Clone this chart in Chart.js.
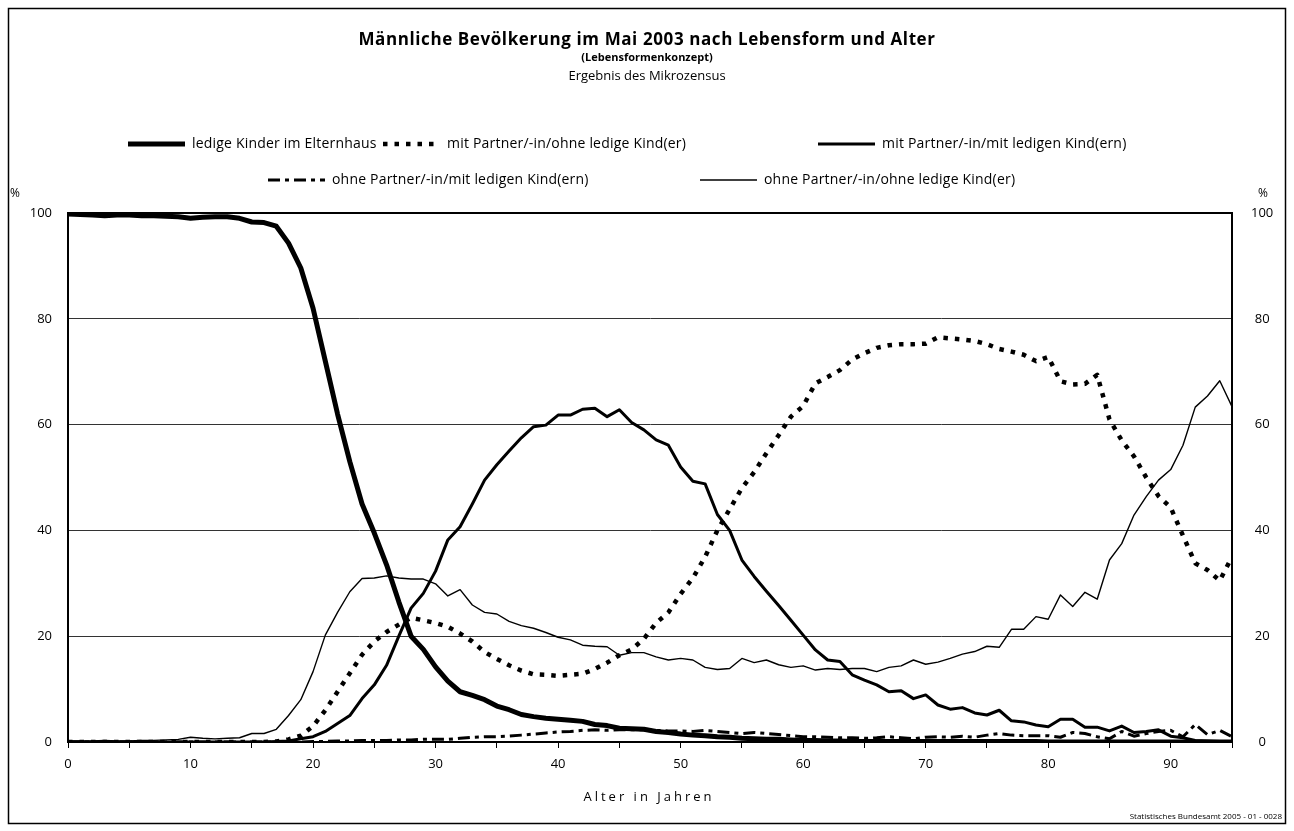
<!DOCTYPE html>
<html>
<head>
<meta charset="utf-8">
<script src="https://cdn.jsdelivr.net/npm/chart.js@4.4.0/dist/chart.umd.min.js"></script>
<style>
    html, body { margin: 0; padding: 0; background: #fff; }
    #wrap { width: 1294px; height: 831px; }
</style>
</head>
<body>
<div id="wrap"><canvas id="chart" width="1294" height="831"></canvas></div>
<script>
// Alter 0 bis 95
const ages = Array.from({ length: 96 }, (_, i) => i);

// Anteile in %
const ledigeKinder = [
    99.8, 99.7, 99.6, 99.5, 99.6, 99.6, 99.5, 99.5, 99.4, 99.3,
    99.0, 99.2, 99.3, 99.3, 99.0, 98.3, 98.2, 97.5, 94.3, 89.6,
    82.0, 72.0, 62.0, 53.0, 45.0, 39.5, 33.5, 26.5, 20.0, 17.5,
    14.2, 11.5, 9.5, 8.8, 8.0, 6.8, 6.1, 5.2, 4.8, 4.5,
    4.3, 4.1, 3.9, 3.3, 3.1, 2.6, 2.5, 2.4, 2.0, 1.8,
    1.5, 1.3, 1.2, 1.0, 0.9, 0.7, 0.6, 0.5, 0.5, 0.4,
    0.3, 0.3, 0.2, 0.2, 0.1, 0.1, 0.1, 0.1, 0.1, 0.1,
    0.1, 0.1, 0.1, 0.1, 0.1, 0.1, 0.1, 0.1, 0.1, 0.1,
    0, 0, 0, 0, 0, 0, 0, 0, 0, 0,
    0, 0, 0, 0, 0, 0
];
const partnerOhneKind = [
    0, 0, 0, 0, 0, 0, 0, 0, 0, 0,
    0, 0, 0, 0, 0, 0, 0, 0.1, 0.5, 1.2,
    3.0, 6.0, 9.5, 13.0, 16.5, 19.0, 20.8, 22.2, 23.5, 23.0,
    22.5, 21.8, 20.5, 19.0, 17.0, 15.7, 14.5, 13.5, 12.8, 12.7,
    12.5, 12.7, 12.9, 13.8, 15.0, 16.4, 17.5, 19.5, 22.5, 24.5,
    28.0, 31.0, 35.0, 40.0, 44.0, 48.0, 51.0, 54.6, 58.0, 61.5,
    63.5, 67.8, 69.0, 70.3, 72.3, 73.5, 74.5, 75.0, 75.2, 75.2,
    75.3, 76.5, 76.3, 76.1, 75.8, 75.2, 74.3, 73.8, 73.2, 72.0,
    72.8, 68.2, 67.6, 67.7, 69.4, 61.0, 57.0, 54.0, 50.0, 46.5,
    44.3, 39.0, 33.8, 32.5, 30.5, 35.0
];
const partnerMitKind = [
    0, 0, 0, 0, 0, 0, 0, 0, 0, 0,
    0, 0, 0, 0, 0, 0, 0, 0.1, 0.2, 0.6,
    1.0, 2.0, 3.5, 5.0, 8.2, 10.8, 14.5, 20.0, 25.3, 28.1,
    32.3, 38.2, 40.7, 45.0, 49.5, 52.4, 55.0, 57.5, 59.6, 59.9,
    61.8, 61.8, 62.9, 63.1, 61.5, 62.8, 60.4, 59.0, 57.1, 56.1,
    52.0, 49.3, 48.8, 43.0, 40.0, 34.4, 31.3, 28.5, 25.8, 23.0,
    20.2, 17.4, 15.5, 15.2, 12.7, 11.7, 10.8, 9.5, 9.7, 8.2,
    8.9, 7.0, 6.2, 6.5, 5.5, 5.1, 6.0, 4.0, 3.8, 3.2,
    2.9, 4.3, 4.3, 2.8, 2.8, 2.1, 3.0, 1.8, 2.0, 2.3,
    1.1, 0.8, 0.3, 0.2, 0.1, 0.1
];
const ohnePartnerMitKind = [
    0, 0, 0, 0, 0, 0, 0, 0, 0, 0,
    0, 0, 0, 0, 0, 0, 0, 0, 0, 0,
    0.1, 0.1, 0.2, 0.2, 0.3, 0.3, 0.3, 0.4, 0.4, 0.5,
    0.5, 0.5, 0.7, 0.9, 1.0, 1.0, 1.1, 1.3, 1.5, 1.7,
    1.9, 2.0, 2.2, 2.3, 2.2, 2.3, 2.3, 2.3, 2.2, 2.1,
    2.1, 2.0, 2.2, 2.0, 1.8, 1.6, 1.8, 1.6, 1.4, 1.2,
    1.0, 1.0, 0.9, 0.8, 0.8, 0.7, 0.8, 1.0, 0.8, 0.6,
    0.9, 1.0, 0.9, 1.1, 0.9, 1.3, 1.6, 1.3, 1.2, 1.2,
    1.2, 0.9, 1.8, 1.6, 1.0, 0.6, 2.0, 1.1, 1.6, 2.0,
    2.2, 1.0, 3.3, 1.4, 2.2, 1.0
];
const ohnePartnerOhneKind = [
    0.2, 0.2, 0.2, 0.3, 0.2, 0.2, 0.3, 0.3, 0.4, 0.5,
    0.9, 0.7, 0.6, 0.7, 0.8, 1.6, 1.6, 2.4, 5.0, 8.0,
    13.3, 20.2, 24.5, 28.4, 30.9, 31.0, 31.4, 31.0, 30.8, 30.8,
    29.9, 27.6, 28.8, 25.9, 24.5, 24.2, 22.8, 22.0, 21.5, 20.7,
    19.8, 19.3, 18.3, 18.1, 18.0, 16.4, 16.9, 16.9, 16.1, 15.5,
    15.8, 15.5, 14.1, 13.7, 13.9, 15.8, 15.0, 15.5, 14.6, 14.1,
    14.4, 13.6, 13.9, 13.7, 13.9, 13.9, 13.3, 14.1, 14.4, 15.5,
    14.7, 15.1, 15.8, 16.6, 17.1, 18.1, 17.9, 21.3, 21.3, 23.7,
    23.2, 27.8, 25.6, 28.3, 27.0, 34.4, 37.5, 42.9, 46.4, 49.5,
    51.5, 56.1, 63.3, 65.4, 68.3, 63.4
];

const seriesLabels = [
    'ledige Kinder im Elternhaus',
    'mit Partner/-in/ohne ledige Kind(er)',
    'mit Partner/-in/mit ledigen Kind(ern)',
    'ohne Partner/-in/mit ledigen Kind(ern)',
    'ohne Partner/-in/ohne ledige Kind(er)'
];
const yTicks = [0, 20, 40, 60, 80, 100];

// Linienstile je Reihe
const lineStyles = [
    { width: 5, dash: [] },
    { width: 4.5, dash: [4.5, 7] },
    { width: 3, dash: [] },
    { width: 3, dash: [12, 5, 4, 5] },
    { width: 1.4, dash: [] }
];

// Legendenpositionen (Layout)
const legendLayout = [
    { x: 128, y: 144 }, { x: 383, y: 144 }, { x: 818, y: 144 },
    { x: 268, y: 180 }, { x: 700, y: 180 }
];

const FONT = "'Open Sans', 'DejaVu Sans', sans-serif";

function toPoints(values) {
    return ages.map((a, i) => ({ x: a, y: values[i] }));
}

const allSeries = [ledigeKinder, partnerOhneKind, partnerMitKind, ohnePartnerMitKind, ohnePartnerOhneKind];

const datasets = allSeries.map((vals, i) => ({
    label: seriesLabels[i],
    data: toPoints(vals),
    borderColor: '#000',
    borderWidth: lineStyles[i].width,
    borderDash: lineStyles[i].dash,
    borderCapStyle: 'butt',
    borderJoinStyle: 'round',
    pointRadius: 0,
    tension: 0,
    fill: false,
    yAxisID: 'y'
}));

// Texte, Rahmen und Legende
const decorPlugin = {
    id: 'decor',
    afterDraw(chart) {
        const ctx = chart.ctx;
        ctx.save();
        ctx.fillStyle = '#000';
        ctx.textAlign = 'center';
        ctx.textBaseline = 'middle';

        ctx.font = `bold 17px ${FONT}`;
        ctx.letterSpacing = '0.6px';
        ctx.fillText('Männliche Bevölkerung im Mai 2003 nach Lebensform und Alter', 647, 40);
        ctx.letterSpacing = '0px';
        ctx.font = `bold 11px ${FONT}`;
        ctx.fillText('(Lebensformenkonzept)', 647, 58);
        ctx.font = `13px ${FONT}`;
        ctx.fillText('Ergebnis des Mikrozensus', 647, 76);

        // Legende
        chart.data.datasets.forEach((ds, i) => {
            const pos = legendLayout[i];
            ctx.beginPath();
            ctx.lineWidth = ds.borderWidth;
            ctx.setLineDash(ds.borderDash);
            ctx.lineCap = 'butt';
            ctx.strokeStyle = '#000';
            ctx.moveTo(pos.x, pos.y);
            ctx.lineTo(pos.x + 57, pos.y);
            ctx.stroke();
            ctx.setLineDash([]);
            ctx.textAlign = 'left';
            ctx.font = `14px ${FONT}`;
            ctx.letterSpacing = '0.2px';
            ctx.fillText(ds.label, pos.x + 64, pos.y);
            ctx.letterSpacing = '0px';
        });

        // Prozentzeichen
        ctx.textAlign = 'center';
        ctx.font = `12px ${FONT}`;
        ctx.fillText('%', 15, 194);
        ctx.fillText('%', 1263, 194);

        // Achsentitel
        ctx.font = `13px ${FONT}`;
        ctx.letterSpacing = '3px';
        ctx.fillText('Alter in Jahren', 649, 797);
        ctx.letterSpacing = '0px';

        // Quelle
        ctx.textAlign = 'right';
        ctx.font = `8px ${FONT}`;
        ctx.fillText('Statistisches Bundesamt 2005 - 01 - 0028', 1282, 817);

        // Rahmen
        ctx.lineWidth = 1.5;
        ctx.strokeStyle = '#000';
        ctx.strokeRect(8.5, 8.5, 1277, 815);
        ctx.restore();
    }
};

const tickFont = { family: FONT, size: 13 };

new Chart(document.getElementById('chart').getContext('2d'), {
    type: 'line',
    data: { datasets: datasets },
    options: {
        responsive: false,
        animation: false,
        events: [],
        layout: { padding: { top: 213, left: 0, right: 0, bottom: 0 } },
        plugins: {
            legend: { display: false },
            tooltip: { enabled: false },
            title: { display: false }
        },
        scales: {
            x: {
                type: 'linear',
                min: 0,
                max: 95,
                ticks: {
                    stepSize: 5,
                    autoSkip: false,
                    maxRotation: 0,
                    color: '#000',
                    font: tickFont,
                    padding: 8,
                    callback: v => (v % 10 === 0 && v < 95) ? v : ''
                },
                grid: {
                    drawOnChartArea: false,
                    drawTicks: true,
                    tickLength: 6,
                    color: '#000',
                    lineWidth: 1
                },
                border: { color: '#000', width: 2 },
                afterFit: scale => { scale.height = 89; }
            },
            y: {
                type: 'linear',
                position: 'left',
                min: 0,
                max: 100,
                afterBuildTicks: scale => { scale.ticks = yTicks.map(v => ({ value: v })); },
                ticks: { color: '#000', font: tickFont, padding: 16 },
                grid: {
                    drawTicks: false,
                    color: c => c.tick && c.tick.value === 100 ? '#000' : '#333',
                    lineWidth: c => c.tick && c.tick.value === 100 ? 2 : 1
                },
                border: { color: '#000', width: 2 },
                afterFit: scale => { scale.width = 68; }
            },
            y2: {
                type: 'linear',
                position: 'right',
                min: 0,
                max: 100,
                afterBuildTicks: scale => { scale.ticks = yTicks.map(v => ({ value: v })); },
                ticks: { color: '#000', font: tickFont, crossAlign: 'center', padding: 19 },
                grid: { drawOnChartArea: false, drawTicks: false },
                border: { color: '#000', width: 2 },
                afterFit: scale => { scale.width = 62; }
            }
        }
    },
    plugins: [decorPlugin]
});
</script>
</body>
</html>
